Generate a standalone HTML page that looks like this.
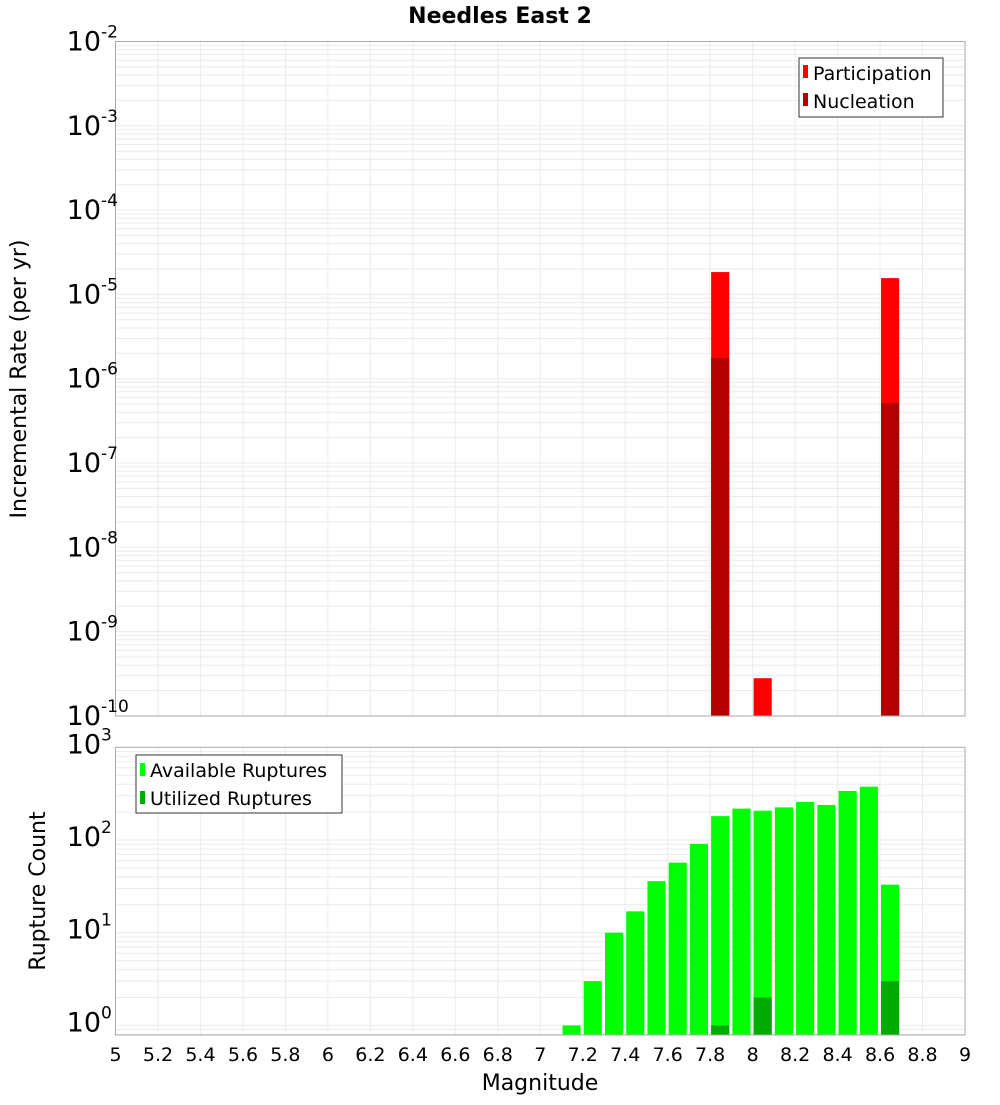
<!DOCTYPE html>
<html><head><meta charset="utf-8"><style>
body{margin:0;background:#fff}
svg text{font-family:"DejaVu Sans","Liberation Sans",sans-serif}
</style></head><body>
<svg id="chart" width="1000" height="1100" xmlns="http://www.w3.org/2000/svg">
<text x="500" y="23" text-anchor="middle" font-size="22" font-weight="bold">Needles East 2</text>
<g id="topPlot"></g>
<g id="botPlot"></g>
<text transform="translate(26,379) rotate(-90)" text-anchor="middle" font-size="22">Incremental Rate (per yr)</text>
<text transform="translate(45,891) rotate(-90)" text-anchor="middle" font-size="22">Rupture Count</text>
<text x="540" y="1090" text-anchor="middle" font-size="22">Magnitude</text>
<g>
<rect x="799" y="58" width="144" height="59" fill="#fff" stroke="#333" stroke-width="1"/>
<rect x="803" y="65" width="5" height="13" fill="#ff0000"/>
<text x="813" y="80" font-size="19">Participation</text>
<rect x="803" y="93" width="5" height="13" fill="#b30000"/>
<text x="813" y="108" font-size="19">Nucleation</text>
</g>
<g>
<rect x="136" y="755" width="206" height="58" fill="#fff" stroke="#333" stroke-width="1"/>
<rect x="140" y="763" width="5" height="13" fill="#00ff00"/>
<text x="150" y="777" font-size="19">Available Ruptures</text>
<rect x="140" y="791" width="5" height="13" fill="#00aa00"/>
<text x="150" y="805" font-size="19">Utilized Ruptures</text>
</g>
</svg>
<script>
const binStarts=[7.1,7.2,7.3,7.4,7.5,7.6,7.7,7.8,7.9,8.0,8.1,8.2,8.3,8.4,8.5,8.6];
const available=[1,3,10,17,36,57,91,181,218,207,225,257,239,338,376,33];
const utilized=[0,0,0,0,0,0,0,1,0,2,0,0,0,0,0,3];
const rateBins=[7.8,8.0,8.6];
const participation=[1.84e-5,2.8e-10,1.56e-5];
const nucleation=[1.76e-6,0,5.15e-7];
const xTicks=["5","5.2","5.4","5.6","5.8","6","6.2","6.4","6.6","6.8","7","7.2","7.4","7.6","7.8","8","8.2","8.4","8.6","8.8","9"];
const rateExps=[-2,-3,-4,-5,-6,-7,-8,-9,-10];
const countExps=[3,2,1,0];

const NS="http://www.w3.org/2000/svg";
const L=115.5,R=965;
const x=m=>L+(m-5)/4*(R-L);
const yTop=v=>41.5+(-2-Math.log10(v))*84.3;
const yBot=v=>1025.4-Math.log10(v)*92.7;
function mk(p,t,a){const e=document.createElementNS(NS,t);for(const k in a)e.setAttribute(k,a[k]);p.appendChild(e);return e;}
function frame(g,y0,y1,yf,lo,hi){
  const grid=mk(g,'g',{});
  
  
  for(let e=lo;e<hi;e++)for(let k=1;k<10;k++){const yy=yf(k*Math.pow(10,e));if(yy>=y0&&yy<=y1)mk(grid,'line',{x1:L,x2:R,y1:yy,y2:yy,stroke:'#ebebeb','stroke-width':1});}
  for(let i=0;i<xTicks.length;i++){const xx=x(+xTicks[i]);mk(grid,'line',{x1:xx,x2:xx,y1:y0,y2:y1,stroke:'#ebebeb','stroke-width':1});}
}
const topG=document.getElementById('topPlot'),botG=document.getElementById('botPlot');
frame(topG,41.5,716,yTop,-10,-2);
frame(botG,747.3,1035,yBot,-1,3);
const bw=(x(5.09)-x(5));
binStarts.forEach((m,i)=>{
  const a=mk(botG,'rect',{x:x(m)+1,y:yBot(available[i]),width:bw-1,height:1035-yBot(available[i]),fill:'#00ff00'});
  
  
  if(utilized[i]>0){const u=mk(botG,'rect',{x:x(m)+1,y:yBot(utilized[i]),width:bw-1,height:1035-yBot(utilized[i]),fill:'#00aa00'});
  
  }
});
rateBins.forEach((m,i)=>{
  const p=mk(topG,'rect',{x:x(m)+1,y:yTop(participation[i]),width:bw-1,height:716-yTop(participation[i]),fill:'#ff0000'});
  
  
  if(nucleation[i]>0){const n=mk(topG,'rect',{x:x(m)+1,y:yTop(nucleation[i]),width:bw-1,height:716-yTop(nucleation[i]),fill:'#b30000'});
  
  }
});
mk(topG,'rect',{x:L,y:41.5,width:R-L,height:674.5,fill:'none',stroke:'#aaa'});
mk(botG,'rect',{x:L,y:747.3,width:R-L,height:287.7,fill:'none',stroke:'#aaa'});
function ylab(g,yy,e){
  const t=mk(g,'text',{x:101,y:yy+9,'text-anchor':'end','font-size':27});
  
  
  t.textContent='10';
  const s=mk(g,'text',{x:101,y:yy-4,'font-size':17});
  
  
  s.textContent=String(e);
}
rateExps.forEach(e=>ylab(topG,yTop(Math.pow(10,e)),e));
countExps.forEach(e=>ylab(botG,yBot(Math.pow(10,e))-3,e));
xTicks.forEach(s=>{
  const t=mk(botG,'text',{x:x(+s),y:1061,'text-anchor':'middle','font-size':19});
  
  
  t.textContent=s;
});
</script>
</body></html>
